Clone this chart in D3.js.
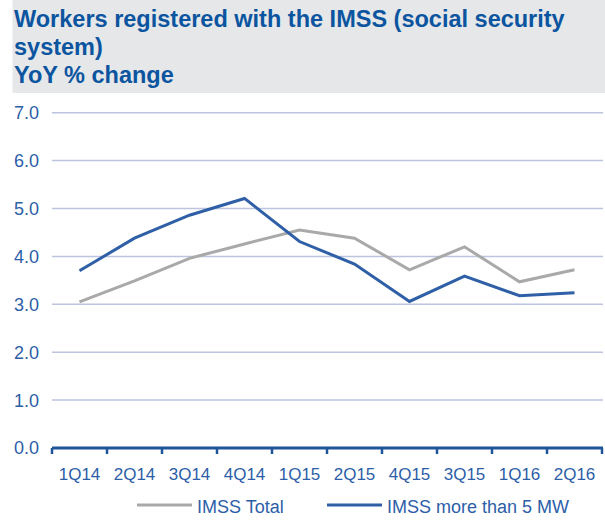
<!DOCTYPE html>
<html>
<head>
<meta charset="utf-8">
<script src="https://cdn.jsdelivr.net/npm/d3@7"></script>
<style>
  html, body { margin: 0; padding: 0; background: #ffffff; }
  svg { display: block; font-family: "Liberation Sans", Arial, sans-serif; }
</style>
</head>
<body>
<svg id="chart" width="605" height="529"></svg>
<script>
const categories = ["1Q14", "2Q14", "3Q14", "4Q14", "1Q15", "2Q15", "4Q15", "3Q15", "1Q16", "2Q16"];
const imssTotal = [3.05, 3.49, 3.96, 4.26, 4.55, 4.38, 3.72, 4.20, 3.47, 3.72];
const imssMore5MW = [3.70, 4.38, 4.86, 5.21, 4.31, 3.84, 3.06, 3.59, 3.18, 3.24];
const yTicks = [0, 1, 2, 3, 4, 5, 6, 7];
const titleLines = ["Workers registered with the IMSS (social security", "system)", "YoY % change"];
const seriesNames = ["IMSS Total", "IMSS more than 5 MW"];

const blue = "#2f5fa6";
const gray = "#a9a9a9";
const textBlue = "#2d5ea8";
const titleBlue = "#0b55a0";

const svg = d3.select("#chart");

// Title box
svg.append("rect").attr("x", 12.5).attr("y", 0).attr("width", 592.5).attr("height", 93).attr("fill", "#e6e7e9");
svg.append("g").selectAll("text").data(titleLines).join("text")
  .attr("x", 14).attr("y", (d, i) => 26.7 + i * 28)
  .attr("fill", titleBlue).attr("font-size", "23.5px").attr("font-weight", "bold")
  .text(d => d);

const x = d3.scaleBand().domain(categories).range([52, 602]).paddingInner(0).paddingOuter(0);
const y = d3.scaleLinear().domain([0, 7]).range([448, 112.7]);

// Gridlines
svg.append("g").selectAll("line").data(yTicks.filter(d => d > 0)).join("line")
  .attr("x1", 52).attr("x2", 603)
  .attr("y1", d => y(d)).attr("y2", d => y(d))
  .attr("stroke", "#bcc4df").attr("stroke-width", 1.5);

// Y labels
svg.append("g").selectAll("text").data(yTicks).join("text")
  .attr("x", 39).attr("y", d => y(d)).attr("dy", "0.36em")
  .attr("text-anchor", "end").attr("fill", textBlue).attr("font-size", "18px")
  .text(d => d.toFixed(1));

// X axis
const xAxis = svg.append("g").attr("transform", "translate(0,448)")
  .call(d3.axisBottom(x).tickSize(0).tickPadding(0));
xAxis.select(".domain").remove();
xAxis.selectAll("text").attr("y", 32).attr("dy", 0)
  .attr("fill", textBlue).attr("font-size", "17px").attr("font-family", "Liberation Sans, Arial, sans-serif");
svg.append("line").attr("x1", 52).attr("x2", 603).attr("y1", 448).attr("y2", 448)
  .attr("stroke", "#1f5599").attr("stroke-width", 3);
const bounds = categories.map(c => x(c)).concat([x(categories[categories.length - 1]) + x.bandwidth()]);
svg.append("g").selectAll("line").data(bounds).join("line")
  .attr("x1", d => d).attr("x2", d => d).attr("y1", 448).attr("y2", 454)
  .attr("stroke", "#1f5599").attr("stroke-width", 2.5);

// Lines
const line = d3.line().x((d, i) => x(categories[i]) + x.bandwidth() / 2).y(d => y(d));
svg.append("path").datum(imssTotal).attr("d", line)
  .attr("fill", "none").attr("stroke", gray).attr("stroke-width", 3);
svg.append("path").datum(imssMore5MW).attr("d", line)
  .attr("fill", "none").attr("stroke", blue).attr("stroke-width", 3);

// Legend
const legend = [
  { name: seriesNames[0], color: gray, x1: 137, x2: 192, tx: 197 },
  { name: seriesNames[1], color: blue, x1: 327, x2: 382, tx: 387 }
];
const lg = svg.append("g");
legend.forEach(l => {
  lg.append("line").attr("x1", l.x1).attr("x2", l.x2).attr("y1", 505).attr("y2", 505)
    .attr("stroke", l.color).attr("stroke-width", 3);
  lg.append("text").attr("x", l.tx).attr("y", 512.5).attr("fill", textBlue)
    .attr("font-size", "18px").text(l.name);
});
</script>
</body>
</html>
